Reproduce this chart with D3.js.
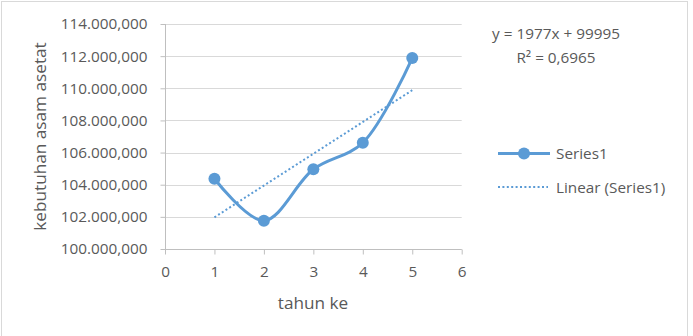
<!DOCTYPE html>
<html>
<head>
<meta charset="utf-8">
<script src="https://cdn.jsdelivr.net/npm/d3@7"></script>
<style>
  body { margin: 0; background: #fff; }
  text { font-family: "Open Sans", "Noto Sans", sans-serif; fill: #595959; }
</style>
</head>
<body>
<div id="chart"></div>
<script>
/* data */
const tahun = [1, 2, 3, 4, 5];
const kebutuhan = [104370, 101760, 104960, 106610, 111880];
const yTicks = [100000, 102000, 104000, 106000, 108000, 110000, 112000, 114000];
const xTicks = [0, 1, 2, 3, 4, 5, 6];
// trendline as printed on the chart
const trendSlope = 1977;
const trendIntercept = 99995;
const trendLabel = ["y = 1977x + 99995", "R² = 0,6965"];
const legendLabels = ["Series1", "Linear (Series1)"];

const W = 693, H = 336;
const color = "#5b9bd5";
const fs = 15.3;

// plot area
var margin = { top: 24, left: 165, right: 693 - 461.7, bottom: 336 - 249 },
    width = W - margin.left - margin.right,
    height = H - margin.top - margin.bottom;

const svgRoot = d3.select("#chart")
    .append("svg")
    .attr("width", W)
    .attr("height", H);

// chart border
svgRoot.append("rect")
    .attr("x", 1.5).attr("y", 1.5)
    .attr("width", 686).attr("height", 340)
    .attr("fill", "none")
    .attr("stroke", "#d9d9d9");

const svg = svgRoot.append("g")
    .attr("transform", "translate(" + margin.left + "," + margin.top + ")");

const x = d3.scaleLinear().domain([0, 6]).range([0, width]);
const y = d3.scaleLinear().domain([100000, 114000]).range([height, 0]);

const locale = d3.formatLocale({ decimal: ",", thousands: ".", grouping: [3], currency: ["", ""] });
const fmt = locale.format(",.3f");

// gridlines
svg.append("g")
    .selectAll("line")
    .data(yTicks)
    .join("line")
    .attr("x1", 0).attr("x2", width)
    .attr("y1", d => Math.round(y(d)) + 0.5).attr("y2", d => Math.round(y(d)) + 0.5)
    .attr("stroke", "#d9d9d9");

// Y axis
const yAxis = svg.append("g")
    .attr("transform", "translate(0.5,0)")
    .call(d3.axisLeft(y).tickValues(yTicks).tickFormat(fmt).tickSize(5).tickPadding(13));
yAxis.select(".domain").attr("stroke", "#bfbfbf").attr("d", "M0,0V" + (height + 5));
yAxis.selectAll(".tick line").attr("stroke", "#bfbfbf");
yAxis.selectAll("text").attr("font-size", fs).style("fill", "#595959");

// X axis
const xAxis = svg.append("g")
    .attr("transform", "translate(0," + (Math.round(height) + 0.5) + ")")
    .call(d3.axisBottom(x).tickValues(xTicks).tickFormat(d3.format("d")).tickSize(5).tickPadding(12));
xAxis.select(".domain").attr("stroke", "#bfbfbf").attr("d", "M0,0H" + width);
xAxis.selectAll(".tick line").attr("stroke", "#bfbfbf");
xAxis.selectAll("text").attr("font-size", fs).style("fill", "#595959");

// axis titles
svgRoot.append("text")
    .attr("transform", "translate(46,136.5) rotate(-90)")
    .attr("text-anchor", "middle")
    .attr("font-size", 17.2)
    .text("kebutuhan asam asetat");

svgRoot.append("text")
    .attr("x", 313).attr("y", 309)
    .attr("text-anchor", "middle")
    .attr("font-size", 17.2)
    .text("tahun ke");

// trendline
const trendX = [tahun[0], tahun[tahun.length - 1]];
svg.append("path")
    .datum(trendX)
    .attr("fill", "none")
    .attr("stroke", color)
    .attr("stroke-width", 2)
    .attr("stroke-dasharray", "2,2.4")
    .attr("d", d3.line()
        .x(d => x(d))
        .y(d => y(trendSlope * d + trendIntercept)));

// series line
const pts = tahun.map((t, i) => ({ t: t, v: kebutuhan[i] }));
svg.append("path")
    .datum(pts)
    .attr("fill", "none")
    .attr("stroke", color)
    .attr("stroke-width", 3)
    .attr("stroke-linejoin", "round")
    .attr("d", d3.line()
        .curve(d3.curveCatmullRom.alpha(0.5))
        .x(d => x(d.t))
        .y(d => y(d.v)));

svg.append("g")
    .selectAll("circle")
    .data(pts)
    .join("circle")
    .attr("cx", d => x(d.t))
    .attr("cy", d => y(d.v))
    .attr("r", 6)
    .attr("fill", color);

// trend equation
const eq = svgRoot.append("g").attr("text-anchor", "middle");
eq.append("text").attr("x", 556).attr("y", 38.5).attr("font-size", fs).text(trendLabel[0]);
eq.append("text").attr("x", 556).attr("y", 62.5).attr("font-size", fs).text(trendLabel[1]);

// legend
const lg = svgRoot.append("g");
lg.append("line").attr("x1", 498).attr("x2", 550).attr("y1", 153.5).attr("y2", 153.5)
    .attr("stroke", color).attr("stroke-width", 3);
lg.append("circle").attr("cx", 524).attr("cy", 153.5).attr("r", 6).attr("fill", color);
lg.append("line").attr("x1", 498).attr("x2", 548).attr("y1", 187).attr("y2", 187)
    .attr("stroke", color).attr("stroke-width", 2).attr("stroke-dasharray", "2,2.4");
lg.append("text").attr("x", 556).attr("y", 159).attr("font-size", fs).text(legendLabels[0]);
lg.append("text").attr("x", 556).attr("y", 192.5).attr("font-size", fs).text(legendLabels[1]);
</script>
</body>
</html>
